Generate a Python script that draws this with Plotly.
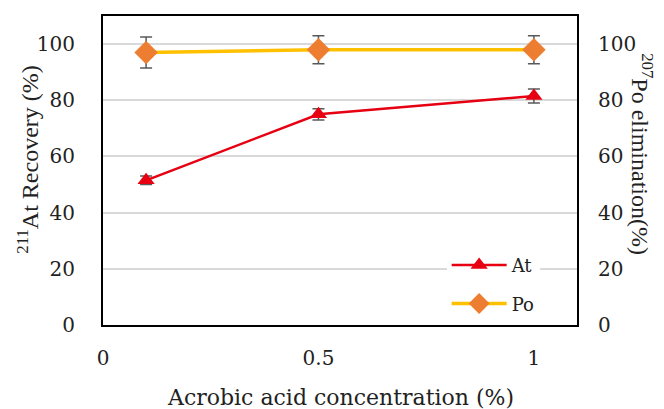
import plotly.graph_objects as go

conc = [0.1, 0.5, 1.0]
at_recovery = [51.5, 75.0, 81.5]
at_err = [1.5, 2.0, 2.5]
po_elim = [97.0, 98.0, 98.0]
po_err = [5.5, 5.0, 5.0]

FONT = "DejaVu Serif, serif"
FONT2 = "Liberation Serif, serif"
fig = go.Figure()
fig.add_trace(go.Scatter(
    x=conc, y=at_recovery, name="At", mode="lines+markers", legendgroup="a",
    line=dict(color="#E60012", width=2.5),
    marker=dict(symbol="triangle-up", size=15, color="#E60012"),
    error_y=dict(type="data", array=at_err, color="#595959", thickness=1.5, width=6),
))
fig.add_trace(go.Scatter(
    x=conc, y=po_elim, name="Po", mode="lines+markers", yaxis="y2", legendgroup="b",
    line=dict(color="#FFC000", width=3.5),
    marker=dict(symbol="diamond", size=18, color="#ED7D31"),
    error_y=dict(type="data", array=po_err, color="#595959", thickness=1.5, width=6),
))

fig.update_layout(
    width=664, height=409,
    margin=dict(l=95, r=95, t=6, b=92),
    paper_bgcolor="white", plot_bgcolor="white",
    font=dict(family=FONT, size=20, color="#222"),
    showlegend=True,
    legend=dict(x=0.725, y=0.01, xanchor="left", yanchor="bottom",
                bgcolor="white", font=dict(family=FONT, size=18), tracegroupgap=12,
                itemwidth=55, entrywidth=110),
    xaxis=dict(range=[0, 1.1], tickvals=[0, 0.5, 1], ticktext=["0", "0.5", "1"],
               tickfont=dict(family=FONT, size=20),
               showgrid=False, zeroline=False, showline=True, linecolor="black",
               linewidth=2, mirror=True, ticks="", ticklabelstandoff=14),
    yaxis=dict(range=[0, 110], tickvals=[0, 20, 40, 60, 80, 100],
               tickfont=dict(family=FONT, size=20),
               showgrid=True, gridcolor="#D9D9D9", gridwidth=1.5, zeroline=False,
               showline=True, linecolor="black", linewidth=2, mirror=True, ticks="",
               ticklabelstandoff=22),
    yaxis2=dict(range=[0, 110], tickvals=[0, 20, 40, 60, 80, 100], overlaying="y",
                tickfont=dict(family=FONT, size=20),
                side="right", showgrid=False, zeroline=False, showline=False, ticks="",
                ticklabelstandoff=20),
    annotations=[
        dict(text="Acrobic acid concentration (%)", xref="paper", yref="paper",
             x=0.5, y=-0.235, xanchor="center", yanchor="middle", showarrow=False,
             font=dict(family=FONT, size=22)),
        dict(text="<sup>211</sup>At Recovery (%)", xref="paper", yref="paper",
             x=-0.159, y=0.537, xanchor="center", yanchor="middle", showarrow=False,
             textangle=-90, font=dict(family=FONT2, size=24)),
        dict(text="<sup>207</sup>Po elimination(%)", xref="paper", yref="paper",
             x=1.137, y=0.553, xanchor="center", yanchor="middle", showarrow=False,
             textangle=90, font=dict(family=FONT2, size=24)),
    ],
)
fig.write_html("out.html")
